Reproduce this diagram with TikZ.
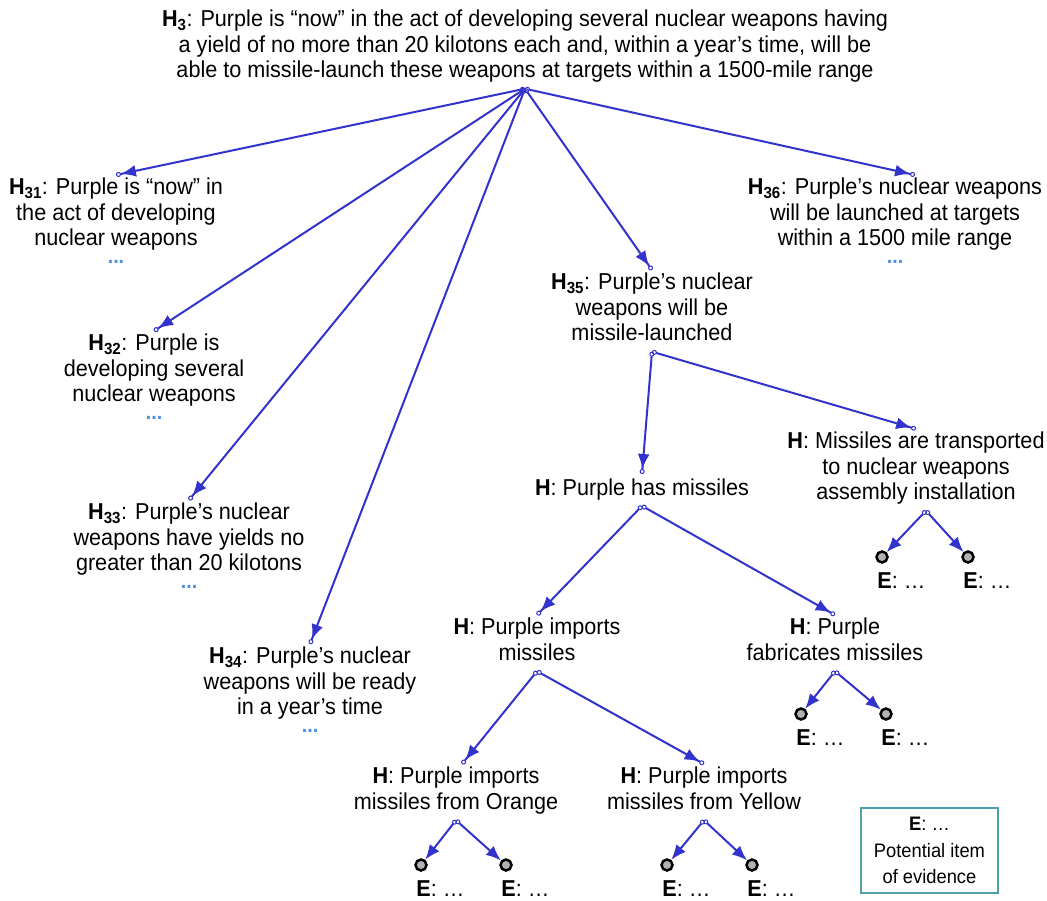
\documentclass[tikz,border=0pt]{standalone}
\usepackage{fontspec}
\setmainfont[FakeStretch=0.94]{Liberation Sans}
\usetikzlibrary{arrows.meta,positioning}
\definecolor{linkblue}{RGB}{50,50,205}
\definecolor{dotblue}{RGB}{74,144,226}
\definecolor{keyteal}{RGB}{80,160,170}
\newcommand{\hyp}[1]{\textbf{H\textsubscript{#1}}}
\newcommand{\ev}{\textbf{E}: …}

\begin{document}
\begin{tikzpicture}[x=1pt, y=-1pt,
  font=\fontsize{23}{25.5}\selectfont,
  hyp/.style={align=center, inner xsep=2pt, inner ysep=3pt, anchor=north,
    execute at begin node=\strut, execute at end node=\strut},
  more/.style={text=dotblue, font=\fontsize{21}{25.5}\selectfont\bfseries, inner sep=0pt},
  item/.style={shape=circle, draw=black, fill=black!30, line width=2.5pt, minimum size=11pt, inner sep=0pt},
  itemlabel/.style={anchor=north west, inner sep=0pt},
  link/.style={draw=linkblue, line width=2pt,
    {Circle[open,length=5pt,line width=1pt]}-{Latex[length=15pt,width=12pt]Circle[open,length=5pt,line width=1pt]}},
  evlink/.style={draw=linkblue, line width=2pt,
    {Circle[open,length=5pt,line width=1pt]}-{Latex[length=15pt,width=12pt]}},
  key/.style={draw=keyteal, line width=1.2pt, minimum width=137pt, minimum height=85pt,
    align=center, font=\fontsize{19.5}{26.5}\selectfont}]
\useasboundingbox (0,0) rectangle (1047,901);

\node [hyp] (H3) at (525,7) {\hyp{3}: Purple is “now” in the act of developing several nuclear weapons having\\a yield of no more than 20 kilotons each and, within a year’s time, will be\\able to missile-launch these weapons at targets within a 1500-mile range};
\node [hyp] (H31) at (116,175) {\hyp{31}: Purple is “now” in\\the act of developing\\nuclear weapons};
\node [hyp] (H32) at (154,331) {\hyp{32}: Purple is\\developing several\\nuclear weapons};
\node [hyp] (H33) at (189,500) {\hyp{33}: Purple’s nuclear\\weapons have yields no\\greater than 20 kilotons};
\node [hyp] (H34) at (310,644) {\hyp{34}: Purple’s nuclear\\weapons will be ready\\in a year’s time};
\node [hyp] (H35) at (652,270) {\hyp{35}: Purple’s nuclear\\weapons will be\\missile-launched};
\node [hyp] (H36) at (895,175) {\hyp{36}: Purple’s nuclear weapons\\will be launched at targets\\within a 1500 mile range};
\node [hyp] (Hhas) at (642,474) {\textbf{H}: Purple has missiles};
\node [hyp] (Htrans) at (916,429) {\textbf{H}: Missiles are transported\\to nuclear weapons\\assembly installation};
\node [hyp] (Himp) at (537,615) {\textbf{H}: Purple imports\\missiles};
\node [hyp] (Hfab) at (835,615) {\textbf{H}: Purple\\fabricates missiles};
\node [hyp] (Horange) at (456,764) {\textbf{H}: Purple imports\\missiles from Orange};
\node [hyp] (Hyellow) at (704,764) {\textbf{H}: Purple imports\\missiles from Yellow};

\node [more, below=3pt of H31] (M31) {...};
\node [more, below=3pt of H32] (M32) {...};
\node [more, below=3pt of H33] (M33) {...};
\node [more, below=3pt of H34] (M34) {...};
\node [more, below=3pt of H36] (M36) {...};

\node [item] (E1) at (421,865) {};
\node [item] (E2) at (506,865) {};
\node [item] (E3) at (667,865) {};
\node [item] (E4) at (752,865) {};
\node [item] (E5) at (801,714) {};
\node [item] (E6) at (886,714) {};
\node [item] (E7) at (882,557) {};
\node [item] (E8) at (968,557) {};
\foreach \e in {1,...,8}
  \node [itemlabel] (E\e t) at ([yshift=-11pt]E\e.south west) {\ev};

\node [key] (key) at (929.5,850.5) {\ev\\Potential item\\of evidence};

\draw [link] (H3.south) -- (H31.north);
\draw [link] (H3.south) -- (H32.north);
\draw [link] (H3.south) -- (H33.north);
\draw [link] (H3.south) -- (H34.north);
\draw [link] (H3.south) -- (H35.north);
\draw [link] (H3.south) -- ([xshift=20pt]H36.north);
\draw [link] (H35.south) -- (Hhas.north);
\draw [link] (H35.south) -- (Htrans.north);
\draw [link] (Hhas.south) -- (Himp.north);
\draw [link] (Hhas.south) -- (Hfab.north);
\draw [link] (Himp.south) -- ([xshift=6pt]Horange.north);
\draw [link] (Himp.south) -- (Hyellow.north);
\draw [evlink] (Horange.south) -- (E1);
\draw [evlink] (Horange.south) -- (E2);
\draw [evlink] (Hyellow.south) -- (E3);
\draw [evlink] (Hyellow.south) -- (E4);
\draw [evlink] (Hfab.south) -- (E5);
\draw [evlink] (Hfab.south) -- (E6);
\draw [evlink] ([xshift=10pt]Htrans.south) -- (E7);
\draw [evlink] ([xshift=10pt]Htrans.south) -- (E8);
\end{tikzpicture}
\end{document}
